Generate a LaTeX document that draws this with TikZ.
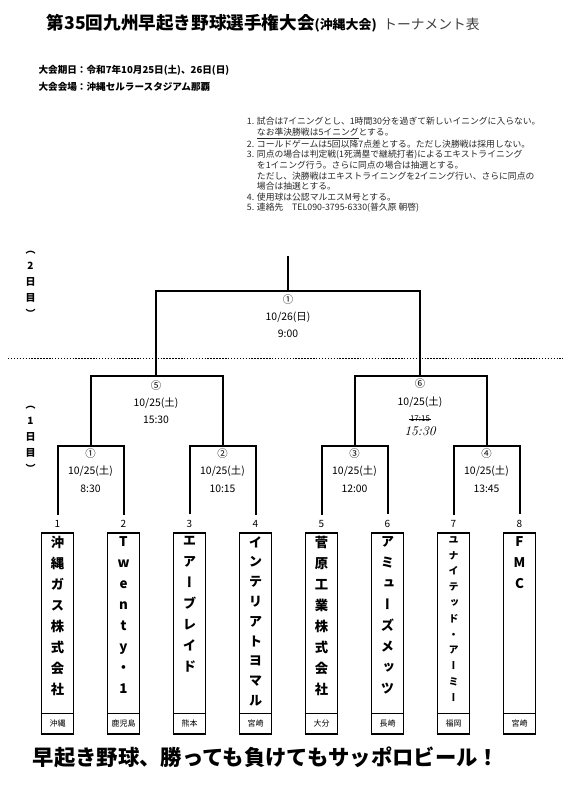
\documentclass[tikz,border=0pt]{standalone}
\usepackage{fontspec}
\setsansfont{Noto Sans CJK JP}
\renewcommand{\familydefault}{\sfdefault}
\newfontfamily\vfont[RawFeature=+vert]{Noto Sans CJK JP}
\usepackage{tikz}

\newcommand{\rno}[1]{\makebox[7.5pt][l]{#1}}
\newcommand{\rind}{\hspace*{7.5pt}}

\begin{document}
\begin{tikzpicture}[x=0.75pt,y=0.75pt,yscale=-1,xscale=1,
    bracket/.style={line width=1.5pt},
    teambox/.style={draw,line width=0.9pt,minimum width=24pt,minimum height=150.75pt,inner sep=0pt},
    bigname/.style={font=\vfont\bfseries\fontsize{10}{15.75}\selectfont,align=center,inner sep=0pt,anchor=north},
    midname/.style={font=\vfont\bfseries\fontsize{10}{14.85}\selectfont,align=center,inner sep=0pt,anchor=north},
    smallname/.style={font=\vfont\bfseries\fontsize{7.5}{11.85}\selectfont,align=center,inner sep=0pt,anchor=north},
    numlabel/.style={font=\fontsize{7.5}{7.5}\selectfont,inner sep=1pt,outer sep=3pt},
    preflabel/.style={font=\fontsize{6}{6}\selectfont,inner sep=0pt},
    matchlabel/.style={font=\fontsize{7.8}{13}\selectfont,align=center,inner sep=0pt},
    sidelabel/.style={font=\vfont\bfseries\fontsize{7.5}{12}\selectfont,align=center,inner sep=0pt}]
    \useasboundingbox (0,0) rectangle (576,802);

    % title and header
    \node[anchor=west,inner sep=0pt] (title) at (46.5,23) {{\bfseries\fontsize{13.2}{13.2}\selectfont 第35回九州早起き野球選手権大会}{\bfseries\fontsize{9.7}{9.7}\selectfont (沖縄大会)}\hspace{5pt}{\fontsize{10.3}{10.3}\selectfont\color{black!75}トーナメント表}};
    \node[anchor=west,inner sep=0pt,font=\bfseries\fontsize{7.2}{7.2}\selectfont] (date) at (38.3,70.7) {大会期日：令和7年10月25日(土)、26日(日)};
    \node[anchor=west,inner sep=0pt,font=\bfseries\fontsize{7.2}{7.2}\selectfont] (venue) at (38.3,87.3) {大会会場：沖縄セルラースタジアム那覇};

    % rules
    \node[anchor=north west,align=left,inner sep=0pt,text=black!85,font=\fontsize{6.6}{7.95}\selectfont] (rules) at (246.7,117) {%
        \rno{1.}試合は7イニングとし、1時間30分を過ぎて新しいイニングに入らない。\\
        \rind\underline{なお準決勝戦は5イニング}とする。\\
        \rno{2.}コールドゲームは5回以降7点差とする。ただし決勝戦は採用しない。\\
        \rno{3.}同点の場合は判定戦(1死満塁で継続打者)によるエキストライニング\\
        \rind を1イニング行う。さらに同点の場合は抽選とする。\\
        \rind ただし、決勝戦はエキストライニングを2イニング行い、さらに同点の\\
        \rind 場合は抽選とする。\\
        \rno{4.}使用球は公認マルエスM号とする。\\
        \rno{5.}連絡先　TEL090-3795-6330(普久原 朝啓)};

    % day labels and divider
    \node[sidelabel] (day2) at (30.5,284) {（\\2\\日\\目\\）};
    \node[sidelabel] (day1) at (30.5,439) {（\\1\\日\\目\\）};
    \coordinate (divl) at (8,358.5);
    \coordinate (divr) at (563,358.5);
    \draw[line width=0.8pt,dash pattern=on 1.1pt off 1.1pt] (divl) -- (divr);

    % teams
    \foreach \i/\x/\ns/\name/\pref in {
        1/57.5/bigname/{沖\\縄\\ガ\\ス\\株\\式\\会\\社}/沖縄,
        2/123.5/bigname/{T\\w\\e\\n\\t\\y\\・\\1}/鹿児島,
        3/189.5/bigname/{エ\\ア\\ー\\ブ\\レ\\イ\\ド}/熊本,
        4/255.5/midname/{イ\\ン\\テ\\リ\\ア\\ト\\ヨ\\マ\\ル}/宮崎,
        5/321.5/bigname/{菅\\原\\工\\業\\株\\式\\会\\社}/大分,
        6/387.5/bigname/{ア\\ミ\\ュ\\ー\\ズ\\メ\\ッ\\ツ}/長崎,
        7/453.5/smallname/{ユ\\ナ\\イ\\テ\\ッ\\ド\\・\\ア\\ー\\ミ\\ー}/福岡,
        8/519.5/bigname/{F\\M\\C}/宮崎}{
        \node[numlabel] (n\i) at (\x,523.5) {\i};
        \node[teambox] (box\i) at (\x,633.5) {};
        \node[\ns] (name\i) at (\x,536) {\name};
        \draw[line width=0.6pt] ([yshift=-15.75pt]box\i.south west) -- ([yshift=-15.75pt]box\i.south east);
        \node[preflabel] (pref\i) at (\x,723.5) {\pref};
    }

    % bracket joints
    \coordinate (ftop) at (288,256);
    \coordinate (f) at (288,291);
    \coordinate (s5) at (156,376);
    \coordinate (s6) at (420,376);
    \coordinate (m1) at (90.5,446);
    \coordinate (m2) at (222.5,446);
    \coordinate (m3) at (354.5,446);
    \coordinate (m4) at (486.5,446);

    \draw[bracket] (ftop) -- (f);
    \draw[bracket] (s5) |- (f) -| (s6);
    \draw[bracket] (m1) |- (s5) -| (m2);
    \draw[bracket] (m3) |- (s6) -| (m4);
    \draw[bracket] (n1.north) |- (m1) -| (n2.north);
    \draw[bracket] (n3.north) |- (m2) -| (n4.north);
    \draw[bracket] (n5.north) |- (m3) -| (n6.north);
    \draw[bracket] (n7.north) |- (m4) -| (n8.north);

    % match labels
    \node[matchlabel] (final) at (288,316) {①\\10/26(日)\\9:00};
    \node[matchlabel] (game5) at (156,402) {⑤\\10/25(土)\\15:30};
    \node[matchlabel] (game6) at (420,393) {⑥\\10/25(土)};
    \node[font=\fontsize{6}{6}\selectfont,inner sep=0.5pt] (oldtime) at (420,419) {17:15};
    \draw[line width=0.5pt] (oldtime.west) -- (oldtime.east);
    \node[font=\rmfamily\itshape\fontsize{10}{10}\selectfont,inner sep=0pt] (newtime) at (420,431) {15:30};
    \node[matchlabel] (game1) at (90.5,470.5) {①\\10/25(土)\\8:30};
    \node[matchlabel] (game2) at (222.5,470.5) {②\\10/25(土)\\10:15};
    \node[matchlabel] (game3) at (354.5,470.5) {③\\10/25(土)\\12:00};
    \node[matchlabel] (game4) at (486.5,470.5) {④\\10/25(土)\\13:45};

    % slogan
    \node[font=\bfseries\fontsize{16}{16}\selectfont,inner sep=0pt] (slogan) at (266,757) {早起き野球、勝っても負けてもサッポロビール！};
\end{tikzpicture}
\end{document}
